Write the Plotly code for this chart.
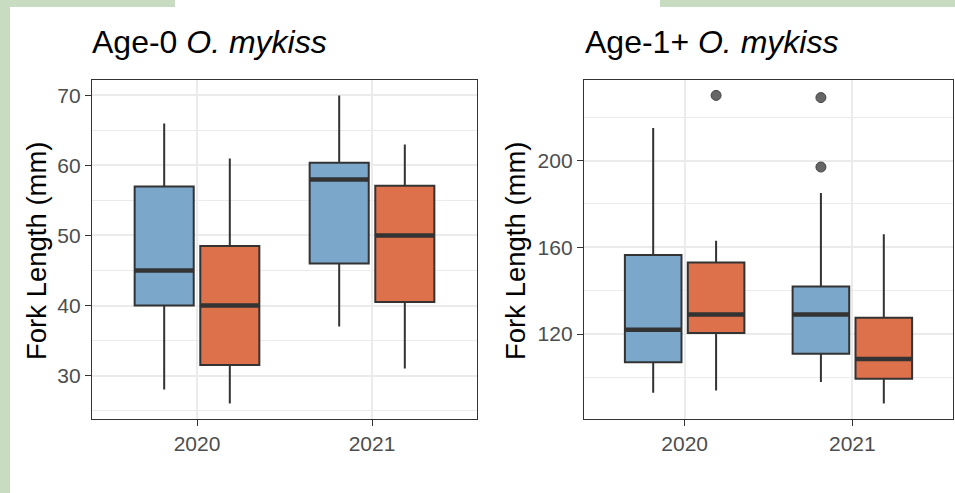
import plotly.graph_objects as go

# ---------------- data ----------------
years = ["2020", "2021"]
series_names = ["Group A", "Group B"]

# Age-0 O. mykiss (fork length, mm)
age0_a_lo = [28, 37]
age0_a_q1 = [40, 46]
age0_a_med = [45, 58]
age0_a_q3 = [57, 60.4]
age0_a_hi = [66, 70]
age0_a_out = [[], []]

age0_b_lo = [26, 31]
age0_b_q1 = [31.5, 40.5]
age0_b_med = [40, 50]
age0_b_q3 = [48.5, 57.1]
age0_b_hi = [61, 63]
age0_b_out = [[], []]

# Age-1+ O. mykiss (fork length, mm)
age1_a_lo = [93, 98]
age1_a_q1 = [107, 111]
age1_a_med = [122, 129]
age1_a_q3 = [156.5, 142]
age1_a_hi = [215, 185]
age1_a_out = [[], [229, 197]]

age1_b_lo = [94, 88]
age1_b_q1 = [120.5, 99.5]
age1_b_med = [129, 108.5]
age1_b_q3 = [153, 127.5]
age1_b_hi = [163, 166]
age1_b_out = [[230], []]

age0_ticks = [30, 40, 50, 60, 70]
age1_ticks = [120, 160, 200]

# ---------------- style ----------------
FONT = "Liberation Sans, Arial, sans-serif"
BLUE = "#7BA7CB"
ORANGE = "#DC714B"
EDGE = "#333333"
GRID = "#EBEBEB"
GREEN = "#C7DCC1"

W, H = 955, 493
def px_x(p):
    return p / W
def px_y(p):
    return 1 - p / H

fig = go.Figure()

panels = [
    ("x", "y", [
        (series_names[0], BLUE, age0_a_lo, age0_a_q1, age0_a_med, age0_a_q3, age0_a_hi, age0_a_out),
        (series_names[1], ORANGE, age0_b_lo, age0_b_q1, age0_b_med, age0_b_q3, age0_b_hi, age0_b_out),
    ]),
    ("x2", "y2", [
        (series_names[0], BLUE, age1_a_lo, age1_a_q1, age1_a_med, age1_a_q3, age1_a_hi, age1_a_out),
        (series_names[1], ORANGE, age1_b_lo, age1_b_q1, age1_b_med, age1_b_q3, age1_b_hi, age1_b_out),
    ]),
]

ranges = []
for xa, ya, series in panels:
    vals = []
    for name, col, lo, q1, med, q3, hi, out in series:
        vals += lo + hi + [v for o in out for v in o]
        fig.add_trace(go.Box(
            x=years, q1=q1, median=med, q3=q3,
            lowerfence=lo, upperfence=hi,
            name=name, offsetgroup=name, xaxis=xa, yaxis=ya,
            fillcolor=col, line=dict(color=EDGE, width=2),
            whiskerwidth=0, boxpoints=False,
            showlegend=False,
        ))
    # thicker median bars (ggplot style)
    for name, col, lo, q1, med, q3, hi, out in series:
        fig.add_trace(go.Box(
            x=years, q1=med, median=med, q3=med,
            lowerfence=med, upperfence=med,
            name=name, offsetgroup=name, xaxis=xa, yaxis=ya,
            fillcolor="rgba(0,0,0,0)", line=dict(color=EDGE, width=4.5),
            whiskerwidth=0, boxpoints=False, showlegend=False, hoverinfo="skip",
        ))
    # outliers
    for name, col, lo, q1, med, q3, hi, out in series:
        ox = [yr for yr, o in zip(years, out) for _ in o]
        oy = [v for o in out for v in o]
        fig.add_trace(go.Scatter(
            x=ox, y=oy, mode="markers", name=name, offsetgroup=name,
            xaxis=xa, yaxis=ya, showlegend=False,
            marker=dict(color="#666666", size=10, line=dict(color="#444444", width=1)),
        ))
    lo_v, hi_v = min(vals), max(vals)
    pad = 0.05 * (hi_v - lo_v)
    ranges.append([lo_v - pad, hi_v + pad])

xrange = [-0.6, len(years) - 1 + 0.6]

axis_common = dict(
    showline=True, mirror=True, linecolor=EDGE, linewidth=1.3,
    ticks="outside", ticklen=6, tickwidth=1.3, tickcolor=EDGE,
    showgrid=True, gridcolor=GRID, gridwidth=1.6,
    tickfont=dict(family=FONT, size=21, color="#4D4D4D"),
    zeroline=False,
)

fig.update_layout(
    width=W, height=H,
    margin=dict(l=0, r=0, t=0, b=0),
    paper_bgcolor="white", plot_bgcolor="white",
    boxmode="group", boxgap=0.25, boxgroupgap=0.1,
    scattermode="group", scattergap=0.25,
    font=dict(family=FONT),
    xaxis=dict(axis_common, domain=[px_x(92), px_x(477)], anchor="y",
               type="category", categoryarray=years, range=xrange),
    yaxis=dict(axis_common, domain=[px_y(419), px_y(80)], anchor="x",
               range=ranges[0], tickvals=age0_ticks,
               minor=dict(tick0=25, dtick=10, showgrid=True, gridcolor=GRID, gridwidth=1, ticks="")),
    xaxis2=dict(axis_common, domain=[px_x(584), px_x(953)], anchor="y2",
                type="category", categoryarray=years, range=xrange),
    yaxis2=dict(axis_common, domain=[px_y(419), px_y(80)], anchor="x2",
                range=ranges[1], tickvals=age1_ticks,
                minor=dict(tick0=100, dtick=40, showgrid=True, gridcolor=GRID, gridwidth=1, ticks="")),
)

annotations = [
    dict(text="Age-0 <i>O. mykiss</i>", x=px_x(90), y=px_y(42), xanchor="left", yanchor="middle",
         font=dict(family=FONT, size=32, color="black")),
    dict(text="Age-1+ <i>O. mykiss</i>", x=px_x(583), y=px_y(42), xanchor="left", yanchor="middle",
         font=dict(family=FONT, size=32, color="black")),
    dict(text="Fork Length (mm)", x=px_x(36), y=px_y(251), textangle=-90,
         xanchor="center", yanchor="middle", font=dict(family=FONT, size=27.5, color="black")),
    dict(text="Fork Length (mm)", x=px_x(515), y=px_y(251), textangle=-90,
         xanchor="center", yanchor="middle", font=dict(family=FONT, size=27.5, color="black")),
]
for a in annotations:
    a.update(xref="paper", yref="paper", showarrow=False)
fig.update_layout(annotations=annotations)

shapes = [
    dict(x0=0, x1=px_x(175), y0=px_y(7), y1=1),
    dict(x0=px_x(660), x1=1, y0=px_y(7), y1=1),
    dict(x0=0, x1=px_x(10), y0=0, y1=1),
]
for s in shapes:
    s.update(type="rect", xref="paper", yref="paper", fillcolor=GREEN, line=dict(width=0), layer="above")
fig.update_layout(shapes=shapes)

fig.write_html("out.html")
